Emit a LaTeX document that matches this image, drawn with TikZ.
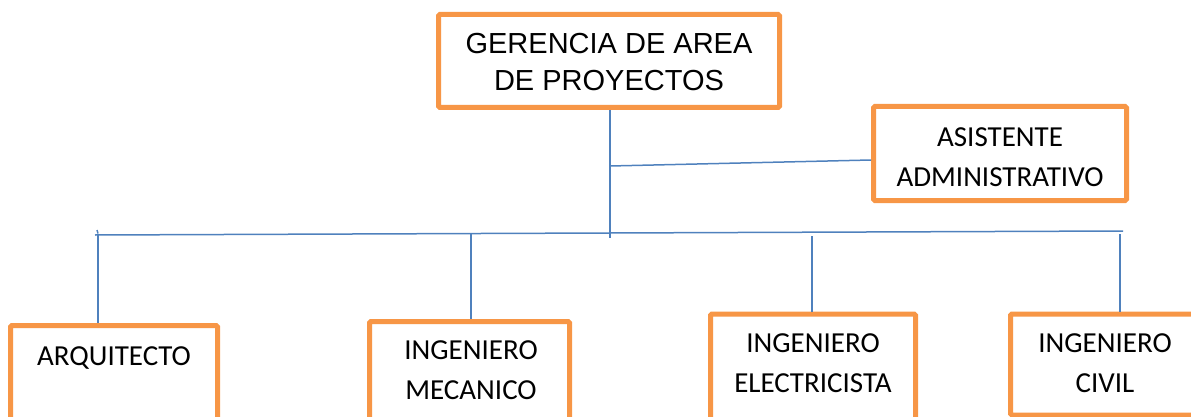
\documentclass[tikz,border=0pt]{standalone}
\usepackage{fontspec}
\setmainfont{Carlito}
\newfontfamily\arialfont{Liberation Sans}
\definecolor{boxorange}{HTML}{F79646}
\definecolor{lineblue}{HTML}{4F81BD}
\begin{document}
\begin{tikzpicture}[x=1pt,y=-1pt,
  orgbox/.style={draw=boxorange, line width=5pt, rounded corners=1.5pt, fill=white, inner sep=0pt},
  lbl/.style={align=center, inner sep=0pt, font=\fontsize{29}{40}\selectfont},
  conn/.style={draw=lineblue, line width=1.5pt}]
\path[use as bounding box] (0,0) rectangle (1191,417);
\clip (0,0) rectangle (1191,417);
% boxes
\node[orgbox, minimum width=341pt, minimum height=93pt] (ger) at (609,61) {};
\node[lbl, font=\arialfont\fontsize{29}{37}\selectfont] (gert) at (609,62) {GERENCIA DE AREA\\DE PROYECTOS};
\node[orgbox, minimum width=253pt, minimum height=94pt] (asi) at (1000,153.5) {};
\node[lbl] (asit) at (1000,157) {ASISTENTE\\ADMINISTRATIVO};
\node[orgbox, anchor=north, minimum width=207pt, minimum height=96.5pt] (arq) at (114,323) {};
\node[lbl] (arqt) at (114,358) {ARQUITECTO};
\node[orgbox, anchor=north, minimum width=200pt, minimum height=120pt] (mec) at (469.5,319) {};
\node[lbl] (mect) at (471,370) {INGENIERO\\MECANICO};
\node[orgbox, anchor=north, minimum width=205pt, minimum height=107.5pt] (ele) at (813,311.5) {};
\node[lbl] (elet) at (813,363) {INGENIERO\\ELECTRICISTA};
\node[orgbox, anchor=north, minimum width=200pt, minimum height=101pt] (civ) at (1110.5,311.5) {};
\node[lbl] (civt) at (1105,363) {INGENIERO\\CIVIL};
% bus coordinates
\coordinate (busL) at (95,235);
\coordinate (busR) at (1123,231);
\coordinate (trunk) at (610,238);
\coordinate (asiJ) at (610,166);
\coordinate (asiE) at (871,160);
\coordinate (d1) at (98,233.5);
\coordinate (d2) at (471,234);
\coordinate (d3) at (812,236);
\coordinate (d4) at (1120,234);
% connectors
\draw[conn] (busL) -- (busR);
\draw[conn] (97,230) -- (d1);
\draw[conn] (ger.south -| trunk) -- (trunk);
\draw[conn] (asiJ) -- (asiE);
\draw[conn] (d1) -- (d1 |- arq.north);
\draw[conn] (d2) -- (d2 |- mec.north);
\draw[conn] (d3) -- (d3 |- ele.north);
\draw[conn] (d4) -- (d4 |- civ.north);
\end{tikzpicture}
\end{document}
